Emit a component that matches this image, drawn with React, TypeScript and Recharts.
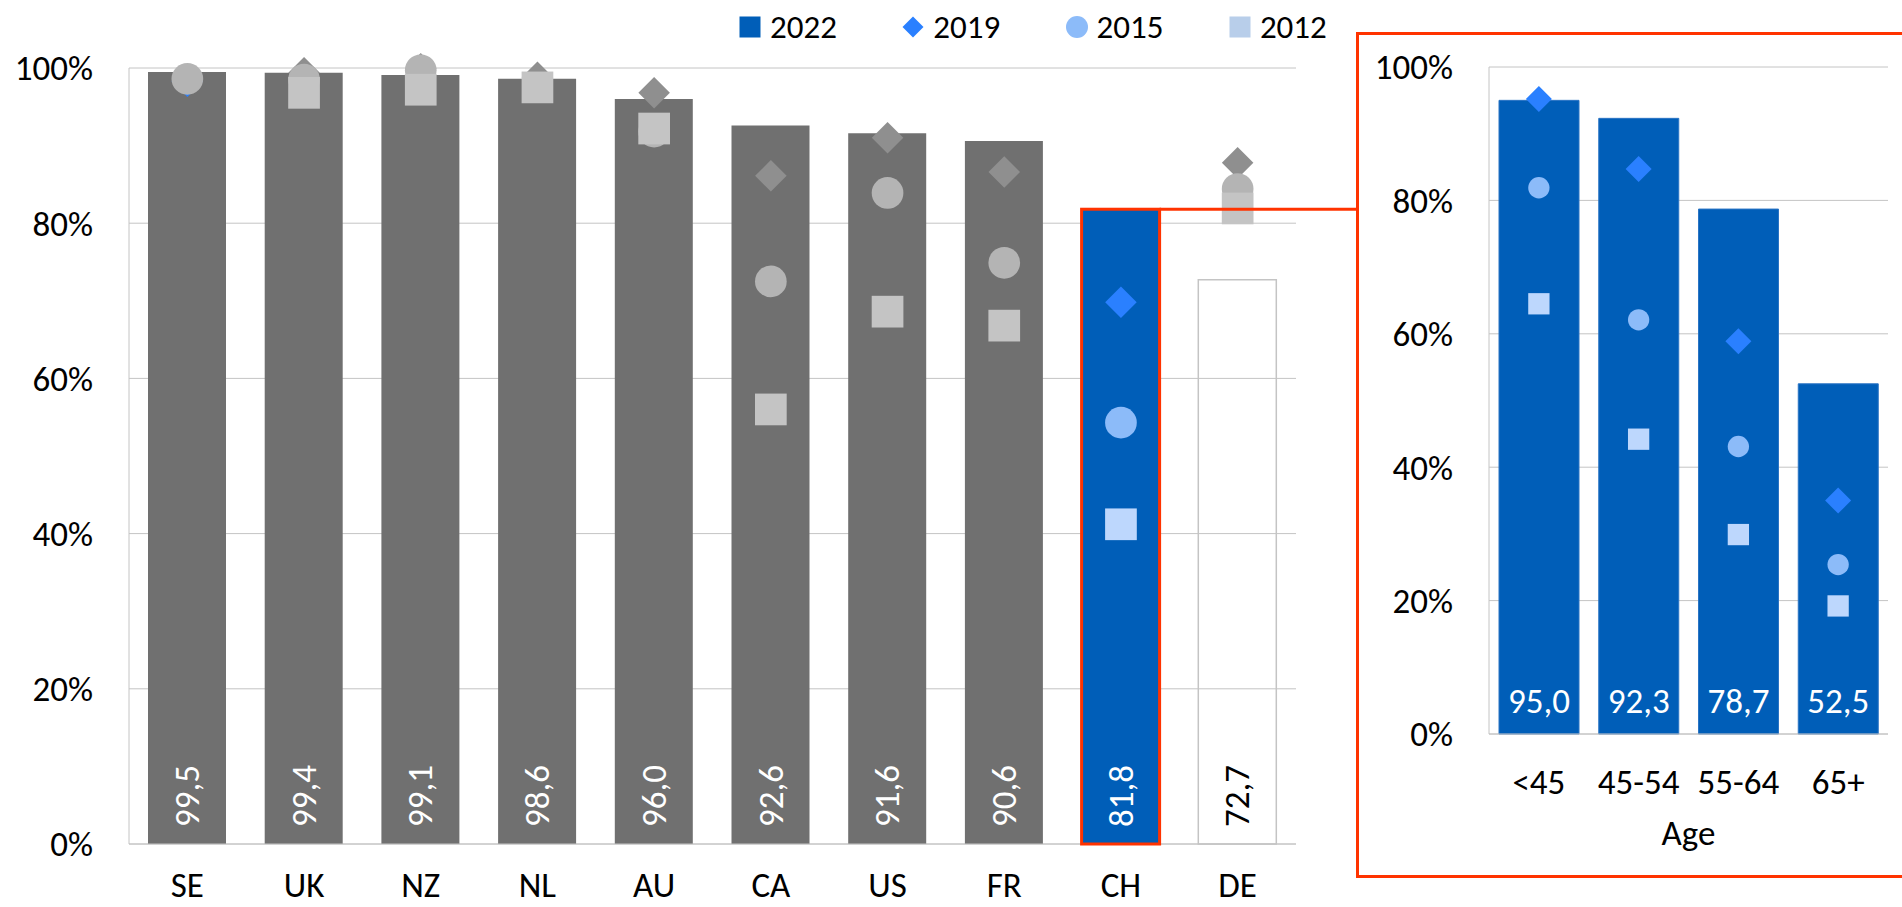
import React from "react";
import {
  ComposedChart,
  Bar,
  Line,
  XAxis,
  YAxis,
  CartesianGrid,
  Cell,
  LabelList,
} from "recharts";

// country comparison (left panel)
const countries = ["SE", "UK", "NZ", "NL", "AU", "CA", "US", "FR", "CH", "DE"];
const country2022 = [99.5, 99.4, 99.1, 98.6, 96.0, 92.6, 91.6, 90.6, 81.8, 72.7];
const country2019 = [98.3, 99.4, 99.9, 98.8, 96.8, 86.1, 91.0, 86.6, 69.8, 87.8];
const country2015: (number | null)[] = [98.6, 98.5, 99.7, null, 91.8, 72.5, 83.9, 74.9, 54.3, 84.4];
const country2012: (number | null)[] = [null, 96.8, 97.2, 97.5, 92.2, 56.0, 68.6, 66.8, 41.2, 81.9];

// age breakdown for CH (right panel)
const ageGroups = ["<45", "45-54", "55-64", "65+"];
const age2022 = [95.0, 92.3, 78.7, 52.5];
const age2019 = [95.2, 84.7, 58.9, 35.0];
const age2015 = [81.9, 62.1, 43.1, 25.4];
const age2012 = [64.5, 44.2, 29.9, 19.2];

const yTicks = [0, 20, 40, 60, 80, 100];
const legendYears = ["2022", "2019", "2015", "2012"];
const highlightCountry = "CH";
const outlineCountry = "DE";
// the source draws the SE 2019 diamond in blue too (only its tip shows)
const blueDiamondCountries = ["SE", "CH"];

const FONT = "Calibri, Carlito, Lato, sans-serif";
const FS = 35;
const LEGEND_FS = 33;
const BLUE = "#005EB8";
const GREY_BAR = "#707070";
const RED = "#FF3300";
const GRID = "#C4C4C4";
const INSET_LEFT = 1358;

const blueMarks = { diamond: "#2A80FF", circle: "#8CBBF9", square: "#BDD7FD" };
const greyMarks = { diamond: "#8F8F8F", circle: "#B4B4B4", square: "#C4C4C4" };
const legendColors = [BLUE, "#2A80FF", "#8CBBF9", "#B8CEEA"];

const countryData = countries.map((cat, i) => ({
  cat,
  v2022: country2022[i],
  v2019: country2019[i],
  v2015: country2015[i],
  v2012: country2012[i],
}));

const ageData = ageGroups.map((cat, i) => ({
  cat,
  v2022: age2022[i],
  v2019: age2019[i],
  v2015: age2015[i],
  v2012: age2012[i],
}));

const pct = (v: number) => `${v}%`;
const comma = (v: number) => Number(v).toFixed(1).replace(".", ",");

type Shape = "diamond" | "circle" | "square";

function makeDot(shape: Shape, size: number, colorOf: (cat: string) => string) {
  return (p: any) => {
    const { cx, cy, value, index, payload } = p;
    const k = `${shape}-${index}`;
    if (cx == null || cy == null || value == null || Number.isNaN(cy)) return <g key={k} />;
    const fill = colorOf(payload?.cat);
    const h = size / 2;
    if (shape === "circle") return <circle key={k} cx={cx} cy={cy} r={h} fill={fill} />;
    if (shape === "square")
      return <rect key={k} x={cx - h} y={cy - h} width={size} height={size} fill={fill} />;
    return (
      <path key={k} d={`M${cx},${cy - h}L${cx + h},${cy}L${cx},${cy + h}L${cx - h},${cy}Z`} fill={fill} />
    );
  };
}

const countryColor = (shape: Shape) => (cat: string) => {
  if (shape === "diamond") return blueDiamondCountries.includes(cat) ? blueMarks.diamond : greyMarks.diamond;
  return cat === highlightCountry ? blueMarks[shape] : greyMarks[shape];
};
const ageColor = (shape: Shape) => () => blueMarks[shape];

// vertical value inside the bar, reading bottom to top
function RotatedLabel(props: any) {
  const vb = props.viewBox || props;
  const { x, y, width, height } = vb;
  const cx = x + width / 2;
  const by = y + height - 17;
  const dark = countries[props.index] === outlineCountry;
  return (
    <text
      x={cx}
      y={by}
      transform={`rotate(-90 ${cx} ${by})`}
      textAnchor="start"
      dominantBaseline="central"
      fill={dark ? "#000" : "#fff"}
      fontSize={FS}
      fontFamily={FONT}
    >
      {comma(props.value)}
    </text>
  );
}

function BottomLabel(props: any) {
  const vb = props.viewBox || props;
  const { x, y, width, height } = vb;
  return (
    <text
      x={x + width / 2}
      y={y + height - 21}
      textAnchor="middle"
      fill="#fff"
      fontSize={FS}
      fontFamily={FONT}
    >
      {comma(props.value)}
    </text>
  );
}

// red frame round the highlighted bar plus the connector to the inset
function HighlightShape(p: any) {
  const { x, y, width, height, payload } = p;
  if (!payload || payload.cat !== highlightCountry) return <g />;
  return (
    <g>
      <rect x={x} y={y} width={width} height={height} fill="none" stroke={RED} strokeWidth={3} />
      <line x1={x + width} y1={y} x2={INSET_LEFT} y2={y} stroke={RED} strokeWidth={3} />
    </g>
  );
}

function LegendIcon({ i }: { i: number }) {
  const c = legendColors[i];
  if (i === 1) return <path d="M11,0.5L21.5,11L11,21.5L0.5,11Z" fill={c} />;
  if (i === 2) return <circle cx={11} cy={11} r={11} fill={c} />;
  return <rect x={0.5} y={0.5} width={21} height={21} fill={c} />;
}

const tickStyle = { fontSize: FS, fill: "#000", fontFamily: FONT };

export default function App() {
  return (
    <div
      style={{
        position: "absolute",
        left: 0,
        top: 0,
        width: 1902,
        height: 907,
        overflow: "hidden",
        background: "#fff",
        fontFamily: FONT,
      }}
    >
      {/* legend */}
      <div style={{ position: "absolute", left: 739, top: 11, height: 32, display: "flex" }}>
        {legendYears.map((yr, i) => (
          <div key={yr} style={{ width: 163.3, display: "flex", alignItems: "center" }}>
            <svg width={22} height={22}>
              <LegendIcon i={i} />
            </svg>
            <span style={{ marginLeft: 9, fontSize: LEGEND_FS, lineHeight: 1, color: "#000" }}>{yr}</span>
          </div>
        ))}
      </div>

      <div style={{ position: "absolute", left: 0, top: 0 }}>
        <ComposedChart
          width={1360}
          height={907}
          data={countryData}
          margin={{ top: 68, right: 64, bottom: 0, left: 0 }}
        >
          <CartesianGrid vertical={false} stroke={GRID} />
          <XAxis
            dataKey="cat"
            interval={0}
            height={63}
            tickSize={0}
            tickMargin={28}
            axisLine={{ stroke: GRID }}
            tick={tickStyle}
          />
          <XAxis xAxisId="hl" dataKey="cat" hide />
          <YAxis
            domain={[0, 100]}
            ticks={yTicks}
            width={129}
            tickSize={0}
            tickMargin={36}
            axisLine={{ stroke: GRID }}
            tickFormatter={pct}
            tick={tickStyle}
          />
          <YAxis
            yAxisId="edge"
            orientation="right"
            width={0}
            domain={[0, 100]}
            tick={false}
            tickLine={false}
            axisLine={{ stroke: GRID }}
          />
          <Bar dataKey="v2022" barSize={78} isAnimationActive={false}>
            {countries.map((c) => (
              <Cell
                key={c}
                fill={c === highlightCountry ? BLUE : c === outlineCountry ? "none" : GREY_BAR}
                stroke={c === outlineCountry ? GRID : "none"}
                strokeWidth={1.5}
              />
            ))}
            <LabelList dataKey="v2022" content={RotatedLabel} />
          </Bar>
          <Line
            dataKey="v2019"
            stroke="none"
            dot={makeDot("diamond", 31.5, countryColor("diamond"))}
            activeDot={false}
            legendType="none"
            isAnimationActive={false}
          />
          <Line
            dataKey="v2015"
            stroke="none"
            dot={makeDot("circle", 31.7, countryColor("circle"))}
            activeDot={false}
            legendType="none"
            isAnimationActive={false}
          />
          <Line
            dataKey="v2012"
            stroke="none"
            dot={makeDot("square", 31.7, countryColor("square"))}
            activeDot={false}
            legendType="none"
            isAnimationActive={false}
          />
          <Bar
            xAxisId="hl"
            dataKey="v2022"
            barSize={78}
            shape={HighlightShape}
            isAnimationActive={false}
            {...({ zIndex: 700 } as any)}
          />
        </ComposedChart>
      </div>

      {/* inset frame */}
      <div
        style={{
          position: "absolute",
          left: 1356,
          top: 32,
          width: 620,
          height: 846,
          boxSizing: "border-box",
          border: `3px solid ${RED}`,
        }}
      />

      <div style={{ position: "absolute", left: 1360, top: 0 }}>
        <ComposedChart
          width={542}
          height={907}
          data={ageData}
          margin={{ top: 67, right: 14, bottom: 0, left: 0 }}
        >
          <CartesianGrid vertical={false} stroke={GRID} />
          <XAxis
            dataKey="cat"
            interval={0}
            height={173}
            tickSize={0}
            tickMargin={35}
            axisLine={{ stroke: GRID }}
            tick={tickStyle}
            label={{ value: "Age", position: "insideTop", offset: 86, fontSize: FS, fill: "#000", fontFamily: FONT }}
          />
          <YAxis
            domain={[0, 100]}
            ticks={yTicks}
            width={129}
            tickSize={0}
            tickMargin={36}
            axisLine={{ stroke: GRID }}
            tickFormatter={pct}
            tick={tickStyle}
          />
          <YAxis
            yAxisId="edge"
            orientation="right"
            width={0}
            domain={[0, 100]}
            tick={false}
            tickLine={false}
            axisLine={{ stroke: GRID }}
          />
          <Bar dataKey="v2022" barSize={80} fill={BLUE} stroke="#2A74C4" strokeWidth={1} isAnimationActive={false}>
            <LabelList dataKey="v2022" content={BottomLabel} />
          </Bar>
          <Line
            dataKey="v2019"
            stroke="none"
            dot={makeDot("diamond", 26, ageColor("diamond"))}
            activeDot={false}
            legendType="none"
            isAnimationActive={false}
          />
          <Line
            dataKey="v2015"
            stroke="none"
            dot={makeDot("circle", 21.3, ageColor("circle"))}
            activeDot={false}
            legendType="none"
            isAnimationActive={false}
          />
          <Line
            dataKey="v2012"
            stroke="none"
            dot={makeDot("square", 21.3, ageColor("square"))}
            activeDot={false}
            legendType="none"
            isAnimationActive={false}
          />
        </ComposedChart>
      </div>
    </div>
  );
}
